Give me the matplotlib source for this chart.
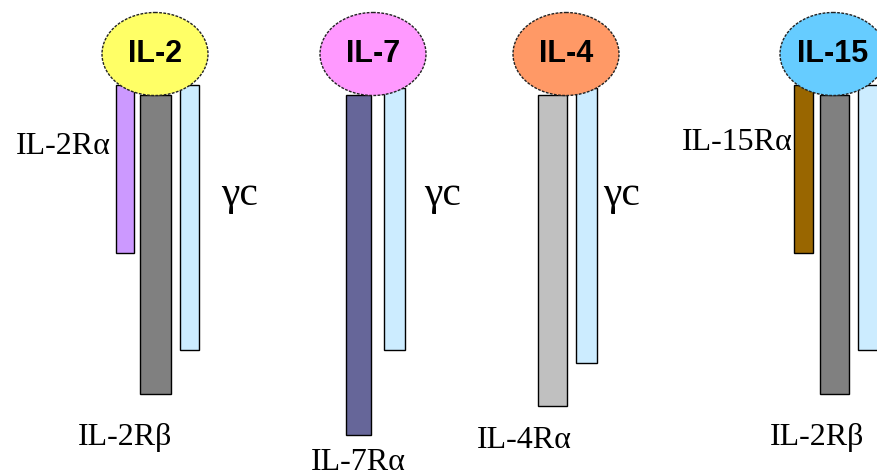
import matplotlib
matplotlib.use("Agg")
import matplotlib.pyplot as plt
from matplotlib.patches import Rectangle, Ellipse

# cytokines (ellipse at top of each receptor group)
cytokines = ["IL-2", "IL-7", "IL-4", "IL-15"]
cyto_x = [155, 373, 566, 833]
cyto_colors = ["#FFFF66", "#FF99FF", "#FF9966", "#66CCFF"]

# receptor chains: left, right, top, bottom (pixel units of the picture)
chain_left = [116, 140, 180, 346, 384, 538, 576, 794, 820, 858]
chain_right = [134, 171, 199, 371, 405, 567, 597, 813, 849, 880]
chain_top = [85, 95, 85, 95, 88, 95, 88, 85, 95, 85]
chain_bottom = [253, 394, 350, 435, 350, 406, 363, 253, 394, 350]
chain_colors = ["#CC99FF", "#808080", "#CCECFF", "#666699", "#CCECFF",
                "#C0C0C0", "#CCECFF", "#996600", "#808080", "#CCECFF"]

# chain labels
label_text = ["IL-2R\u03b1", "IL-2R\u03b2", "\u03b3c", "IL-7R\u03b1", "\u03b3c",
              "IL-4R\u03b1", "\u03b3c", "IL-15R\u03b1", "IL-2R\u03b2"]
label_x = [63, 125, 240, 358, 443, 524, 622, 737, 817]
label_y = [146, 437, 195, 462, 195, 440, 195, 143, 437]
label_size = [23, 23, 30, 23, 30, 23, 30, 23, 23]

fig = plt.figure(figsize=(8.77, 4.75), dpi=100)
ax = fig.add_axes([0, 0, 1, 1])
ax.set_xlim(0, 877)
ax.set_ylim(475, 0)
ax.axis("off")

for l, r, t, b, c in zip(chain_left, chain_right, chain_top, chain_bottom, chain_colors):
    ax.add_patch(Rectangle((l, t), r - l, b - t, facecolor=c, edgecolor="black",
                           linewidth=1, zorder=2))

for name, x, c in zip(cytokines, cyto_x, cyto_colors):
    ax.add_patch(Ellipse((x, 54), 106, 83, facecolor=c, edgecolor="#222222",
                         linewidth=1, linestyle=(0, (2, 1)), zorder=3))
    ax.text(x, 54, name, ha="center", va="center", fontsize=22, fontweight="bold",
            family="Liberation Sans", zorder=4)

for s, x, y, fs in zip(label_text, label_x, label_y, label_size):
    ax.text(x, y, s, ha="center", va="center", fontsize=fs, family="Liberation Serif")

fig.savefig("out.png", dpi=100, facecolor="white")
